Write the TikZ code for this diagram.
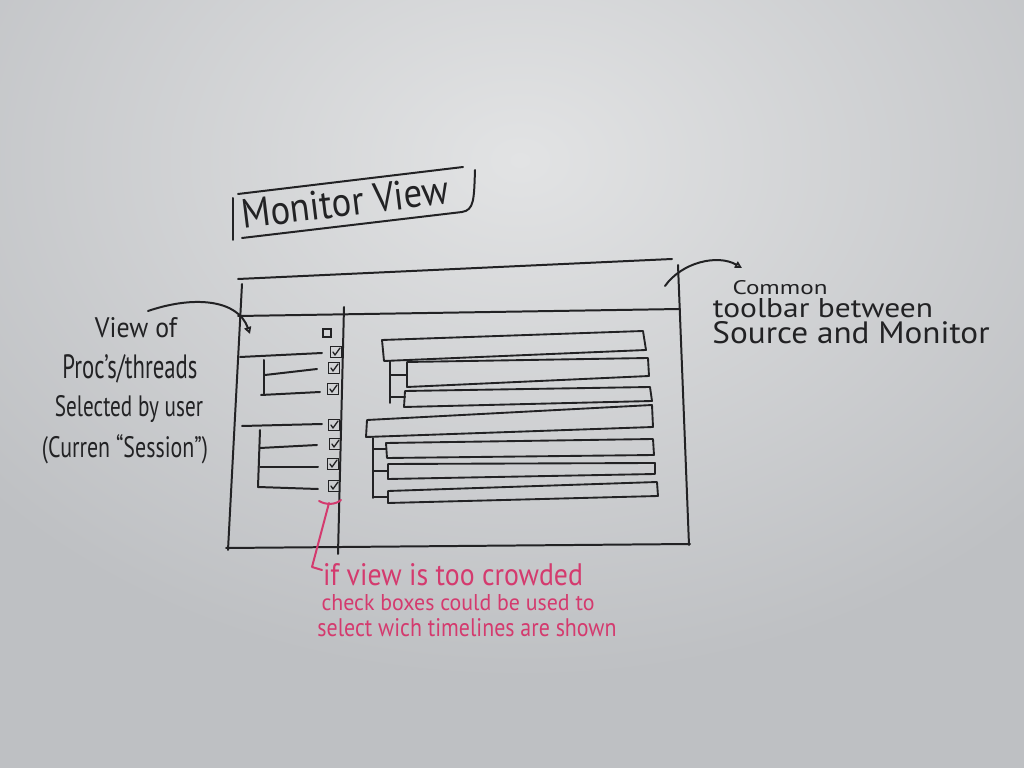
\documentclass[tikz,border=0pt]{standalone}
\usepackage{fontspec}
\setmainfont{PT Sans}
\usepackage{graphicx}
\usetikzlibrary{arrows.meta,calc}

\definecolor{board}{RGB}{190,192,195}
\definecolor{boardlight}{RGB}{226,227,228}
\definecolor{ink}{RGB}{34,34,36}
\definecolor{redink}{RGB}{212,58,110}

% one drawing unit = 0.03cm
\newlength\pxu
\setlength\pxu{0.03cm}
% text squeezed into a given width and height (in drawing units)
\newcommand\fitto[3]{\resizebox{#1\pxu}{#2\pxu}{#3}}

\tikzset{
  pen/.style={draw=ink, line width=1.7pt, line cap=round, line join=round},
  redpen/.style={draw=redink, line width=1.7pt, line cap=round, line join=round},
  inktext/.style={text=ink, inner sep=0pt, anchor=base},
  redtext/.style={text=redink, inner sep=0pt, anchor=base},
  cbox/.style={draw=ink, line width=1.3pt, minimum size=11\pxu, inner sep=0pt},
  tick/.style={draw=ink, line width=1.1pt, line cap=round, line join=round},
  bar/.style={pen, line width=1.6pt},
}

\begin{document}
\begin{tikzpicture}[x=0.03cm, y=-0.03cm]
  % whiteboard
  \useasboundingbox (0,0) rectangle (1024,768);
  \fill[board] (0,0) rectangle (1024,768);
  \shade[inner color=boardlight, outer color=board] (520,160) ellipse (700 and 520);

  % title box
  \node[inktext, rotate=7] (title) at (347,216) {\fitto{208}{29}{Monitor View}};
  \draw[pen] (238,194) -- (463,167);
  \draw[pen] (233,198) -- (233,240);
  \draw[pen] (242,238) -- (462,212) .. controls (474,210) and (474,200) .. (475,170);

  % application window
  \draw[pen] (238,279) -- (672,259);
  \draw[pen] (242,284) -- (228,550);
  \draw[pen] (226,548) -- (690,544);
  \draw[pen] (678,265) -- (689,545);
  \draw[pen] (238,316) -- (680,309);
  \draw[pen] (344,307) -- (338,554);

  % process / thread tree
  \draw[pen] (240,357) -- (322,353);
  \draw[pen] (264,360) -- (264,395);
  \draw[pen] (265,375) -- (317,369);
  \draw[pen] (261,395) -- (320,392);
  \draw[pen] (242,426) -- (322,424);
  \draw[pen] (260,430) -- (258,487);
  \draw[pen] (260,448) -- (317,445);
  \draw[pen] (260,467) -- (318,467);
  \draw[pen] (258,487) -- (318,489);

  % check boxes
  \node[cbox, minimum size=8\pxu] (c0) at (327,333) {};
  \foreach \n/\x/\y in {1/336/352, 2/334/368, 3/333/389, 4/334/425,
                        5/335/444, 6/333/464, 7/334/486} {
    \node[cbox] (c\n) at (\x,\y) {};
    \draw[tick] ($(c\n.center)+(-3,0)$) -- ($(c\n.center)+(-1,3)$) -- ($(c\n.center)+(4,-4)$);
  }

  % timelines, first process
  \draw[bar] (382,340) -- (643,331) -- (646,350) -- (384,361) -- cycle;
  \draw[pen] (390,361) -- (390,403);
  \draw[bar] (407,362) -- (648,358) -- (649,376) -- (407,387) -- cycle;
  \draw[pen] (390,375) -- (407,375);
  \draw[bar] (405,391) -- (650,387) -- (652,401) -- (404,407) -- cycle;
  \draw[pen] (390,397) -- (405,397);

  % timelines, second process
  \draw[bar] (367,420) -- (652,405) -- (653,427) -- (366,437) -- cycle;
  \draw[pen] (373,438) -- (373,498);
  \draw[bar] (386,443) -- (653,439) -- (654,455) -- (387,458) -- cycle;
  \draw[pen] (373,449) -- (386,449);
  \draw[bar] (388,464) -- (655,463) -- (655,474) -- (388,479) -- cycle;
  \draw[pen] (373,471) -- (388,471);
  \draw[bar] (388,491) -- (657,482) -- (658,496) -- (388,503) -- cycle;
  \draw[pen] (373,497) -- (388,497);

  % note on the left
  \node[inktext] (l1) at (136,338) {\fitto{82}{20}{View of}};
  \node[inktext] (l2) at (130,379) {\fitto{135}{24}{Proc's/threads}};
  \node[inktext] (l3) at (129,417) {\fitto{148}{21}{Selected by user}};
  \node[inktext] (l4) at (125,458) {\fitto{166}{23}{(Curren ``Session'')}};
  \coordinate (lstart) at (148,311);
  \coordinate (lend) at (250,334);
  \draw[pen, -{Triangle[open, length=6pt, width=6pt]}]
    (lstart) .. controls (195,295) and (238,300) .. (lend);

  % note on the right
  \node[inktext] (r1) at (780,295) {\fitto{95}{14}{Common}};
  \node[inktext] (r2) at (823,318) {\fitto{220}{19}{toolbar between}};
  \node[inktext] (r3) at (851,344) {\fitto{277}{22}{Source and Monitor}};
  \coordinate (rstart) at (665,286);
  \coordinate (rend) at (742,268);
  \draw[pen, -{Triangle[open, length=6pt, width=6pt]}]
    (rstart) .. controls (682,262) and (718,254) .. (rend);

  % red remark on the check boxes
  \node[redtext] (n1) at (453,586) {\fitto{260}{22}{if view is too crowded}};
  \node[redtext] (n2) at (458,610) {\fitto{273}{16}{check boxes could be used to}};
  \node[redtext] (n3) at (467,636) {\fitto{299}{18}{select wich timelines are shown}};
  \coordinate (bl) at (319,501);
  \coordinate (br) at (341,500);
  \coordinate (bm) at (329,503);
  \coordinate (bc) at (312,567);
  \draw[redpen] (bl) .. controls (326,505) and (335,505) .. (br);
  \draw[redpen] (bm) -- (bc) -- (322,570);
\end{tikzpicture}
\end{document}
